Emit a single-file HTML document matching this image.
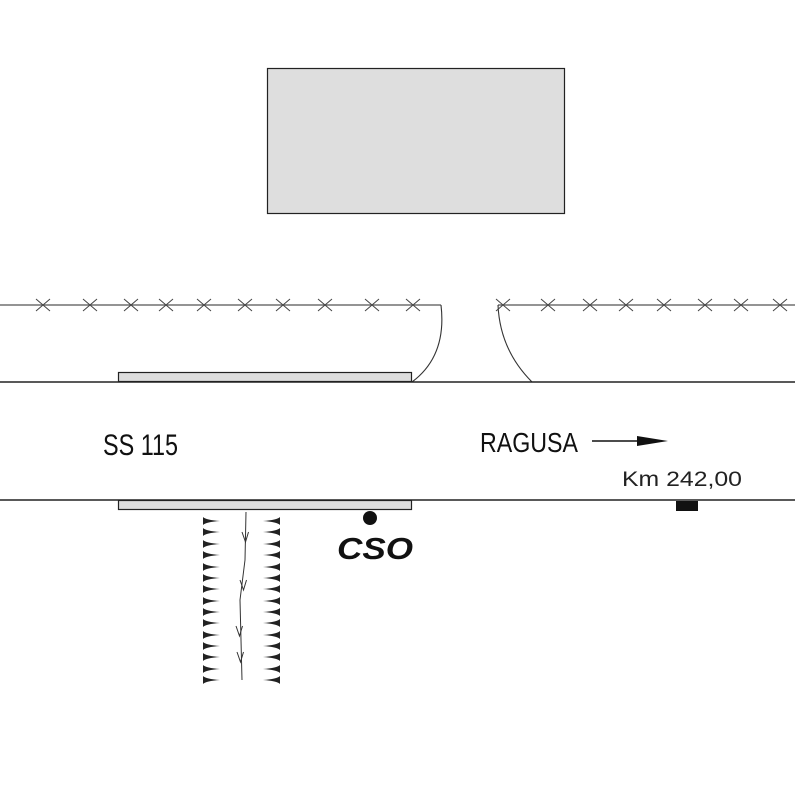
<!DOCTYPE html>
<html><head><meta charset="utf-8"><style>
html,body{margin:0;padding:0;background:#fff}
svg{display:block}
</style></head><body>
<svg width="795" height="787" viewBox="0 0 795 787" xmlns="http://www.w3.org/2000/svg" font-family="Liberation Sans, sans-serif">
<rect x="267.5" y="68.5" width="297" height="145" fill="#dedede" stroke="#222" stroke-width="1.2"/>
<g stroke="#555" stroke-width="1.2" fill="none">
<line x1="0" y1="305" x2="441" y2="305"/>
<line x1="498" y1="305" x2="795" y2="305"/>
</g>
<g stroke="#333" stroke-width="1.1" fill="none">
<path d="M441,305 Q447,356 412,382"/>
<path d="M498,305 Q500,350 532,382"/>
</g>
<g stroke="#444" stroke-width="1">
<path d="M36,299 l14,12 M36,311 l14,-12"/>
<path d="M83,299 l14,12 M83,311 l14,-12"/>
<path d="M124,299 l14,12 M124,311 l14,-12"/>
<path d="M159,299 l14,12 M159,311 l14,-12"/>
<path d="M197,299 l14,12 M197,311 l14,-12"/>
<path d="M238,299 l14,12 M238,311 l14,-12"/>
<path d="M276,299 l14,12 M276,311 l14,-12"/>
<path d="M318,299 l14,12 M318,311 l14,-12"/>
<path d="M365,299 l14,12 M365,311 l14,-12"/>
<path d="M406,299 l14,12 M406,311 l14,-12"/>
<path d="M496,299 l14,12 M496,311 l14,-12"/>
<path d="M541,299 l14,12 M541,311 l14,-12"/>
<path d="M583,299 l14,12 M583,311 l14,-12"/>
<path d="M619,299 l14,12 M619,311 l14,-12"/>
<path d="M657,299 l14,12 M657,311 l14,-12"/>
<path d="M698,299 l14,12 M698,311 l14,-12"/>
<path d="M734,299 l14,12 M734,311 l14,-12"/>
<path d="M773,299 l14,12 M773,311 l14,-12"/>
</g>
<rect x="118.5" y="372.5" width="293" height="9" fill="#dedede" stroke="#222" stroke-width="1.2"/>
<rect x="118.5" y="500.5" width="293" height="9" fill="#dedede" stroke="#222" stroke-width="1.2"/>
<line x1="0" y1="382" x2="795" y2="382" stroke="#222" stroke-width="1.4"/>
<line x1="0" y1="500" x2="795" y2="500" stroke="#222" stroke-width="1.4"/>
<rect x="676" y="501" width="22" height="10" fill="#111"/>
<text x="103" y="455" font-size="30" textLength="75" lengthAdjust="spacingAndGlyphs" fill="#111">SS 115</text>
<text x="480" y="452" font-size="28" textLength="98" lengthAdjust="spacingAndGlyphs" fill="#111">RAGUSA</text>
<line x1="592" y1="441" x2="640" y2="441" stroke="#111" stroke-width="1.5"/>
<path d="M637,436 L668,441 L637,446 Z" fill="#111"/>
<text x="622" y="486" font-size="21" textLength="120" lengthAdjust="spacingAndGlyphs" fill="#222">Km 242,00</text>
<circle cx="370" cy="518" r="7" fill="#111"/>
<text x="337" y="559" font-size="31" font-weight="bold" font-style="italic" textLength="76" lengthAdjust="spacingAndGlyphs" fill="#111">CSO</text>
<polyline points="246,512 245,560 240,600 242,680" fill="none" stroke="#333" stroke-width="1"/>
<g stroke="#333" stroke-width="1" fill="none">
<path d="M242,532 l3.5,10 l3,-10"/>
<path d="M240,580 l3.5,10 l3,-10"/>
<path d="M236,626 l3.5,10 l3,-10"/>
<path d="M237,652 l3.5,10 l3,-10"/>
</g>
<g fill="#222">
<path d="M203,517 L203,525 Q206,522 220,521 Q206,520 203,517Z"/>
<path d="M203,528 L203,536 Q206,533 220,532 Q206,531 203,528Z"/>
<path d="M203,540 L203,548 Q206,545 220,544 Q206,543 203,540Z"/>
<path d="M203,551 L203,559 Q206,556 220,555 Q206,554 203,551Z"/>
<path d="M203,563 L203,571 Q206,568 220,567 Q206,566 203,563Z"/>
<path d="M203,574 L203,582 Q206,579 220,578 Q206,577 203,574Z"/>
<path d="M203,585 L203,593 Q206,590 220,589 Q206,588 203,585Z"/>
<path d="M203,597 L203,605 Q206,602 220,601 Q206,600 203,597Z"/>
<path d="M203,608 L203,616 Q206,613 220,612 Q206,611 203,608Z"/>
<path d="M203,619 L203,627 Q206,624 220,623 Q206,622 203,619Z"/>
<path d="M203,631 L203,639 Q206,636 220,635 Q206,634 203,631Z"/>
<path d="M203,642 L203,650 Q206,647 220,646 Q206,645 203,642Z"/>
<path d="M203,653 L203,661 Q206,658 220,657 Q206,656 203,653Z"/>
<path d="M203,665 L203,673 Q206,670 220,669 Q206,668 203,665Z"/>
<path d="M203,676 L203,684 Q206,681 220,680 Q206,679 203,676Z"/>
<path d="M280,517 L280,525 Q277,522 263,521 Q277,520 280,517Z"/>
<path d="M280,528 L280,536 Q277,533 263,532 Q277,531 280,528Z"/>
<path d="M280,540 L280,548 Q277,545 263,544 Q277,543 280,540Z"/>
<path d="M280,551 L280,559 Q277,556 263,555 Q277,554 280,551Z"/>
<path d="M280,563 L280,571 Q277,568 263,567 Q277,566 280,563Z"/>
<path d="M280,574 L280,582 Q277,579 263,578 Q277,577 280,574Z"/>
<path d="M280,585 L280,593 Q277,590 263,589 Q277,588 280,585Z"/>
<path d="M280,597 L280,605 Q277,602 263,601 Q277,600 280,597Z"/>
<path d="M280,608 L280,616 Q277,613 263,612 Q277,611 280,608Z"/>
<path d="M280,619 L280,627 Q277,624 263,623 Q277,622 280,619Z"/>
<path d="M280,631 L280,639 Q277,636 263,635 Q277,634 280,631Z"/>
<path d="M280,642 L280,650 Q277,647 263,646 Q277,645 280,642Z"/>
<path d="M280,653 L280,661 Q277,658 263,657 Q277,656 280,653Z"/>
<path d="M280,665 L280,673 Q277,670 263,669 Q277,668 280,665Z"/>
<path d="M280,676 L280,684 Q277,681 263,680 Q277,679 280,676Z"/>
</g>
</svg>
</body></html>
